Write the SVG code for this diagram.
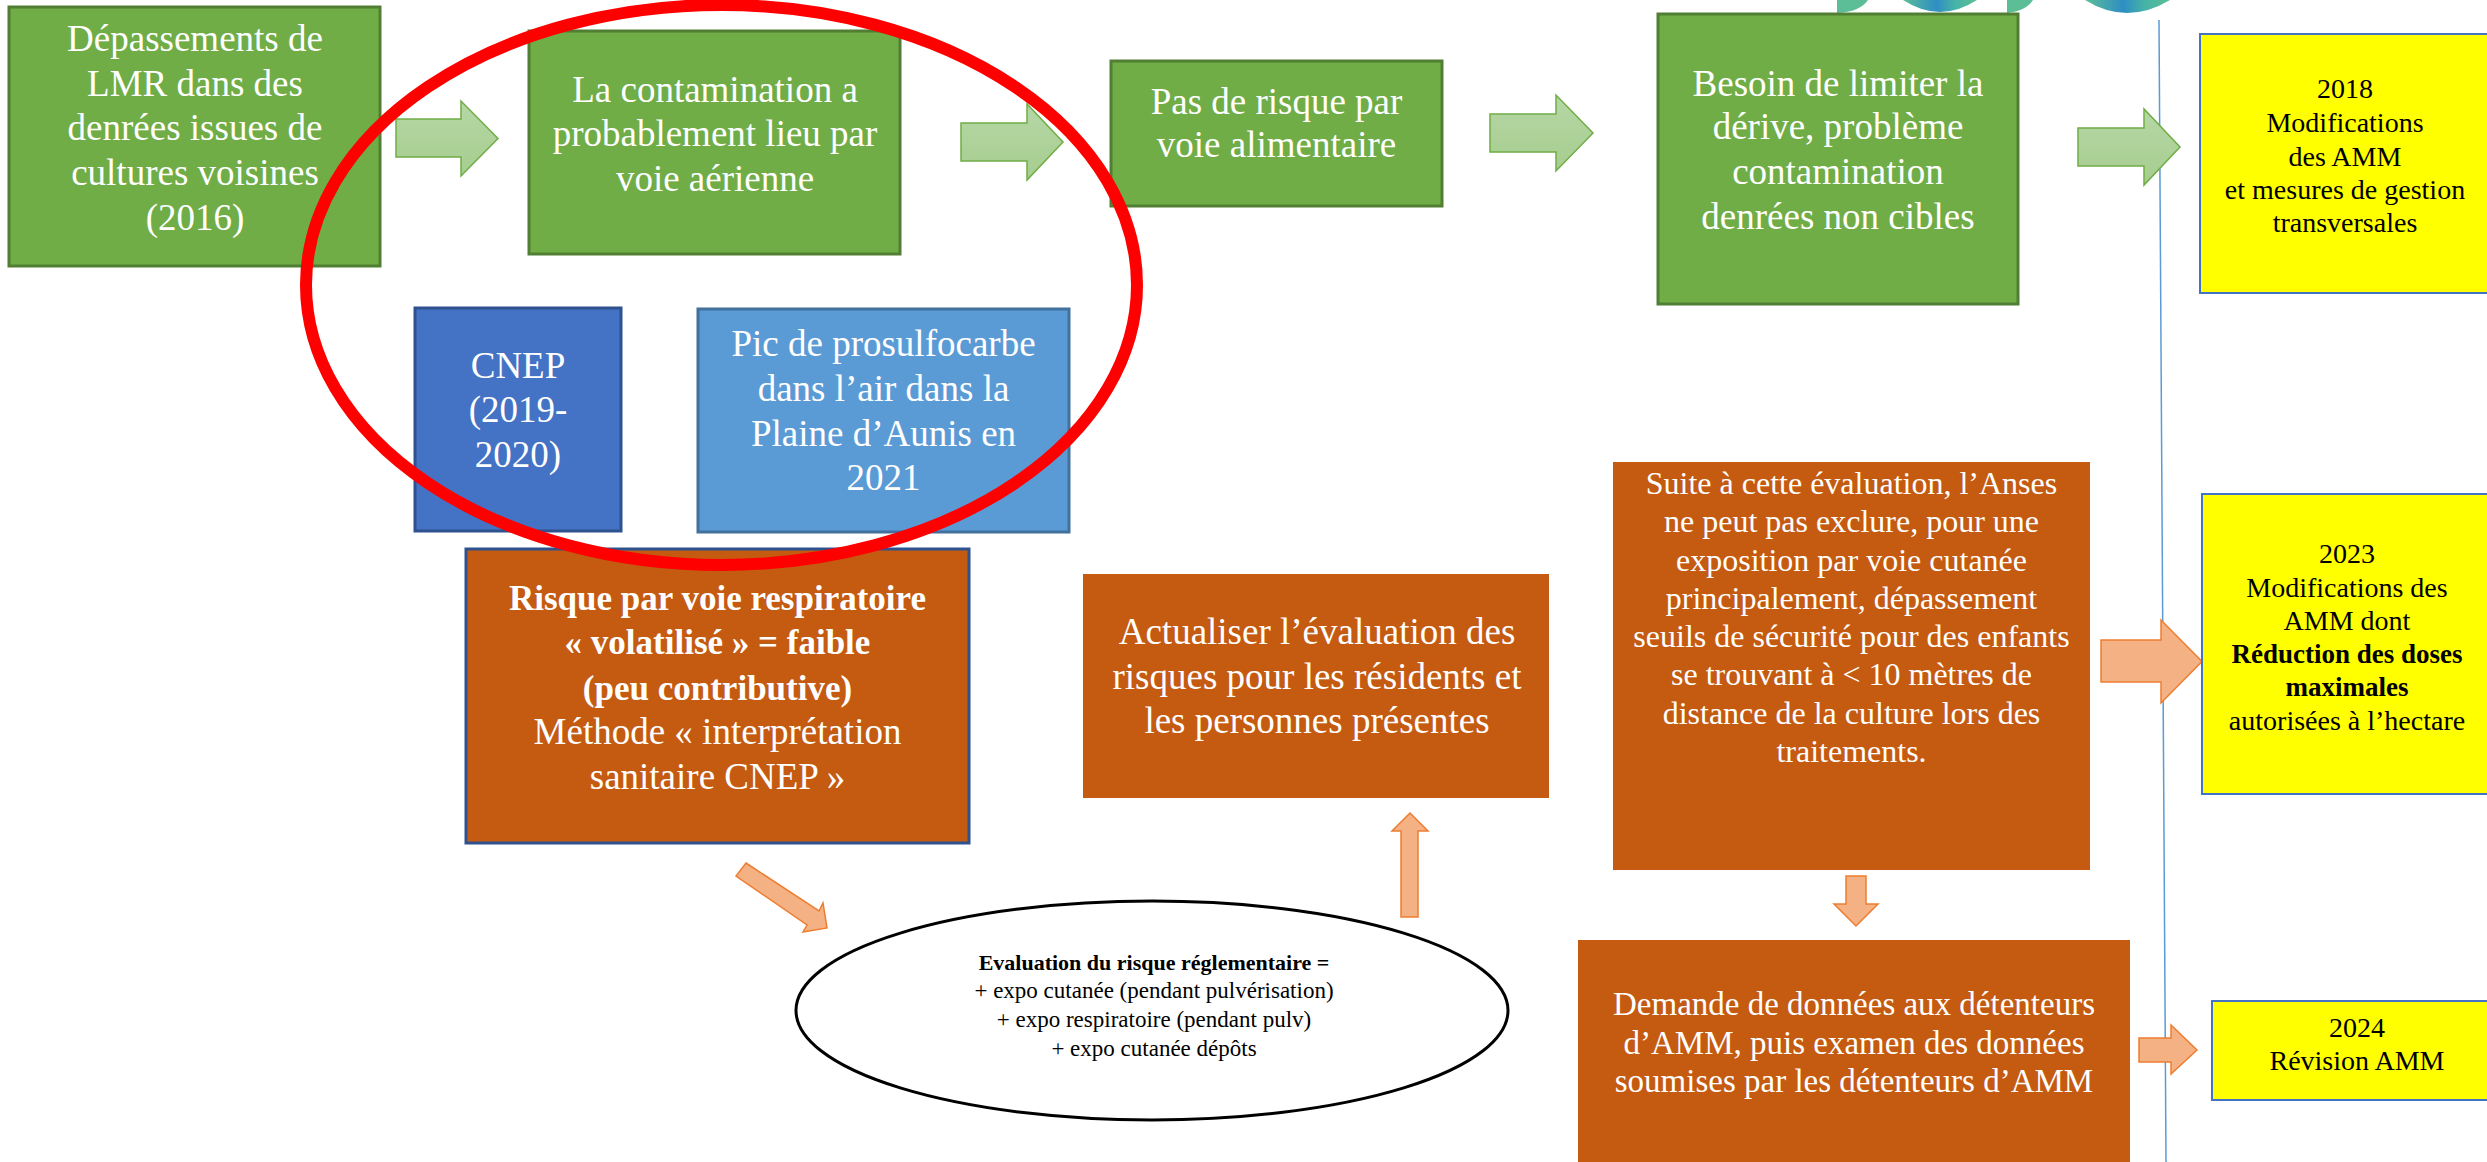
<svg xmlns="http://www.w3.org/2000/svg" width="2487" height="1162" viewBox="0 0 2487 1162">
<defs>
<linearGradient id="gArrow" x1="0" y1="0" x2="0" y2="1">
<stop offset="0" stop-color="#B6D7A6"/>
<stop offset="1" stop-color="#A6CD8E"/>
</linearGradient>
<linearGradient id="gLogo" x1="0" y1="0" x2="1" y2="0">
<stop offset="0" stop-color="#5CBE96"/>
<stop offset="0.45" stop-color="#2E8EC4"/>
<stop offset="0.7" stop-color="#46B3A8"/>
<stop offset="1" stop-color="#5CBE96"/>
</linearGradient>
<style>
.green{fill:#70AD47;stroke:#507E32;stroke-width:3}
.cnep{fill:#4472C4;stroke:#2F528F;stroke-width:3}
.pic{fill:#5B9BD5;stroke:#41719C;stroke-width:3}
.orange{fill:#C55A11}
.orangeB{fill:#C55A11;stroke:#2F528F;stroke-width:3}
.yellow{fill:#FFFF00;stroke:#4472C4;stroke-width:2}
.garrow{fill:url(#gArrow);stroke:#70AD47;stroke-width:1.5}
.sarrow{fill:#F4B183;stroke:#ED7D31;stroke-width:1.5}
text{font-family:"Liberation Serif","Times New Roman",serif;text-anchor:middle}
.w{fill:#FFFFFF;font-size:37px}
.wb{fill:#FFFFFF;font-size:35px;font-weight:bold}
.w2{fill:#FFFFFF;font-size:32px}
.w3{fill:#FFFFFF;font-size:33px}
.k{fill:#000000;font-size:28px}
.kb{fill:#000000;font-size:27px;font-weight:bold}
.e{fill:#000000;font-size:23px}
.eb{fill:#000000;font-size:22px;font-weight:bold}
</style>
</defs>
<rect width="2487" height="1162" fill="#FFFFFF"/>

<g id="logo">
<path d="M1837,0 L1837,13 Q1860,12 1868,0 Z" fill="#5CBE96"/>
<path d="M1903,0 Q1940,24 1977,0 Z" fill="url(#gLogo)"/>
<path d="M2007,0 L2007,13 Q2026,11 2033,0 Z" fill="#5CBE96"/>
<path d="M2085,0 Q2127,26 2170,0 Z" fill="url(#gLogo)"/>
</g>

<g id="timeline">
<line x1="2159" y1="20" x2="2166" y2="1162" stroke="#5B9BD5" stroke-width="1.5"/>
</g>

<g id="connectors">
<polygon class="garrow" points="396,119 461,119 461,101 498,138.5 461,176 461,157 396,157"/>
<polygon class="garrow" points="961,123 1027,123 1027,104 1063,142 1027,180 1027,161 961,161"/>
<polygon class="garrow" points="1490,114 1556,114 1556,95 1593,133 1556,171 1556,152 1490,152"/>
<polygon class="garrow" points="2078,128 2144,128 2144,109 2180,147 2144,185 2144,166 2078,166"/>
<polygon class="sarrow" points="746,863 819,911 823,903 827,928 803,932 807,925 736,876"/>
<polygon class="sarrow" points="1401,917 1401,831 1392,831 1410,813 1428,831 1418,831 1418,917"/>
<polygon class="sarrow" points="1846,876 1866,876 1866,904 1878,904 1856,926 1834,904 1846,904"/>
<polygon class="sarrow" points="2101,640 2161,640 2161,620 2202,661.5 2161,703 2161,682 2101,682"/>
<polygon class="sarrow" points="2139,1038 2171,1038 2171,1025 2197,1050 2171,1074 2171,1062 2139,1062"/>
</g>

<g id="n-depassements">
<rect class="green" x="9" y="7" width="371" height="259"/>
<text class="w"><tspan x="195" y="51">Dépassements de</tspan><tspan x="195" y="96">LMR dans des</tspan><tspan x="195" y="140">denrées issues de</tspan><tspan x="195" y="185">cultures voisines</tspan><tspan x="195" y="230">(2016)</tspan></text>
</g>

<g id="n-contamination">
<rect class="green" x="529" y="31" width="371" height="223"/>
<text class="w"><tspan x="715" y="102">La contamination a</tspan><tspan x="715" y="146">probablement lieu par</tspan><tspan x="715" y="191">voie aérienne</tspan></text>
</g>

<g id="n-pas-de-risque">
<rect class="green" x="1111" y="61" width="331" height="145"/>
<text class="w"><tspan x="1276.5" y="114">Pas de risque par</tspan><tspan x="1276.5" y="157">voie alimentaire</tspan></text>
</g>

<g id="n-besoin">
<rect class="green" x="1658" y="14" width="360" height="290"/>
<text class="w"><tspan x="1838" y="96">Besoin de limiter la</tspan><tspan x="1838" y="139">dérive, problème</tspan><tspan x="1838" y="184">contamination</tspan><tspan x="1838" y="229">denrées non cibles</tspan></text>
</g>

<g id="n-2018">
<rect class="yellow" x="2200" y="34" width="290" height="259"/>
<text class="k"><tspan x="2345" y="98">2018</tspan><tspan x="2345" y="132">Modifications</tspan><tspan x="2345" y="166">des AMM</tspan><tspan x="2345" y="199">et mesures de gestion</tspan><tspan x="2345" y="232">transversales</tspan></text>
</g>

<g id="n-cnep">
<rect class="cnep" x="415" y="308" width="206" height="223"/>
<text class="w"><tspan x="518" y="378">CNEP</tspan><tspan x="518" y="422">(2019-</tspan><tspan x="518" y="467">2020)</tspan></text>
</g>

<g id="n-pic">
<rect class="pic" x="698" y="309" width="371" height="223"/>
<text class="w"><tspan x="883.5" y="356">Pic de prosulfocarbe</tspan><tspan x="883.5" y="401">dans l’air dans la</tspan><tspan x="883.5" y="446">Plaine d’Aunis en</tspan><tspan x="883.5" y="490">2021</tspan></text>
</g>

<g id="n-risque">
<rect class="orangeB" x="466" y="549" width="503" height="294"/>
<text><tspan class="wb" x="717.5" y="610">Risque par voie respiratoire</tspan><tspan class="wb" x="717.5" y="654">« volatilisé » = faible</tspan><tspan class="wb" x="717.5" y="700">(peu contributive)</tspan><tspan class="w" x="717.5" y="744">Méthode « interprétation</tspan><tspan class="w" x="717.5" y="789">sanitaire CNEP »</tspan></text>
</g>

<g id="n-actualiser">
<rect class="orange" x="1083" y="574" width="466" height="224"/>
<text class="w"><tspan x="1317" y="644">Actualiser l’évaluation des</tspan><tspan x="1317" y="689">risques pour les résidents et</tspan><tspan x="1317" y="733">les personnes présentes</tspan></text>
</g>

<g id="n-evaluation">
<ellipse cx="1152" cy="1010.5" rx="356" ry="109.5" fill="#FFFFFF" stroke="#000000" stroke-width="3"/>
<text><tspan class="eb" x="1154" y="970">Evaluation du risque réglementaire =</tspan><tspan class="e" x="1154" y="998">+ expo cutanée (pendant pulvérisation)</tspan><tspan class="e" x="1154" y="1027">+ expo respiratoire (pendant pulv)</tspan><tspan class="e" x="1154" y="1056">+ expo cutanée dépôts</tspan></text>
</g>

<g id="n-suite">
<rect class="orange" x="1613" y="462" width="477" height="408"/>
<text class="w2"><tspan x="1851.5" y="494">Suite à cette évaluation, l’Anses</tspan><tspan x="1851.5" y="532">ne peut pas exclure, pour une</tspan><tspan x="1851.5" y="571">exposition par voie cutanée</tspan><tspan x="1851.5" y="609">principalement, dépassement</tspan><tspan x="1851.5" y="647">seuils de sécurité pour des enfants</tspan><tspan x="1851.5" y="685">se trouvant à &lt; 10 mètres de</tspan><tspan x="1851.5" y="724">distance de la culture lors des</tspan><tspan x="1851.5" y="762">traitements.</tspan></text>
</g>

<g id="n-demande">
<rect class="orange" x="1578" y="940" width="552" height="230"/>
<text class="w3"><tspan x="1854" y="1015">Demande de données aux détenteurs</tspan><tspan x="1854" y="1054">d’AMM, puis examen des données</tspan><tspan x="1854" y="1092">soumises par les détenteurs d’AMM</tspan></text>
</g>

<g id="n-2023">
<rect class="yellow" x="2202" y="494" width="290" height="300"/>
<text><tspan class="k" x="2347" y="563">2023</tspan><tspan class="k" x="2347" y="597">Modifications des</tspan><tspan class="k" x="2347" y="630">AMM dont</tspan><tspan class="kb" x="2347" y="663">Réduction des doses</tspan><tspan class="kb" x="2347" y="696">maximales</tspan><tspan class="k" x="2347" y="730">autorisées à l’hectare</tspan></text>
</g>

<g id="n-2024">
<rect class="yellow" x="2212" y="1001" width="280" height="99"/>
<text class="k"><tspan x="2357" y="1037">2024</tspan><tspan x="2357" y="1070">Révision AMM</tspan></text>
</g>

<g id="highlight">
<ellipse cx="721.5" cy="285" rx="415.5" ry="280" fill="none" stroke="#FF0000" stroke-width="12"/>
</g>
</svg>
